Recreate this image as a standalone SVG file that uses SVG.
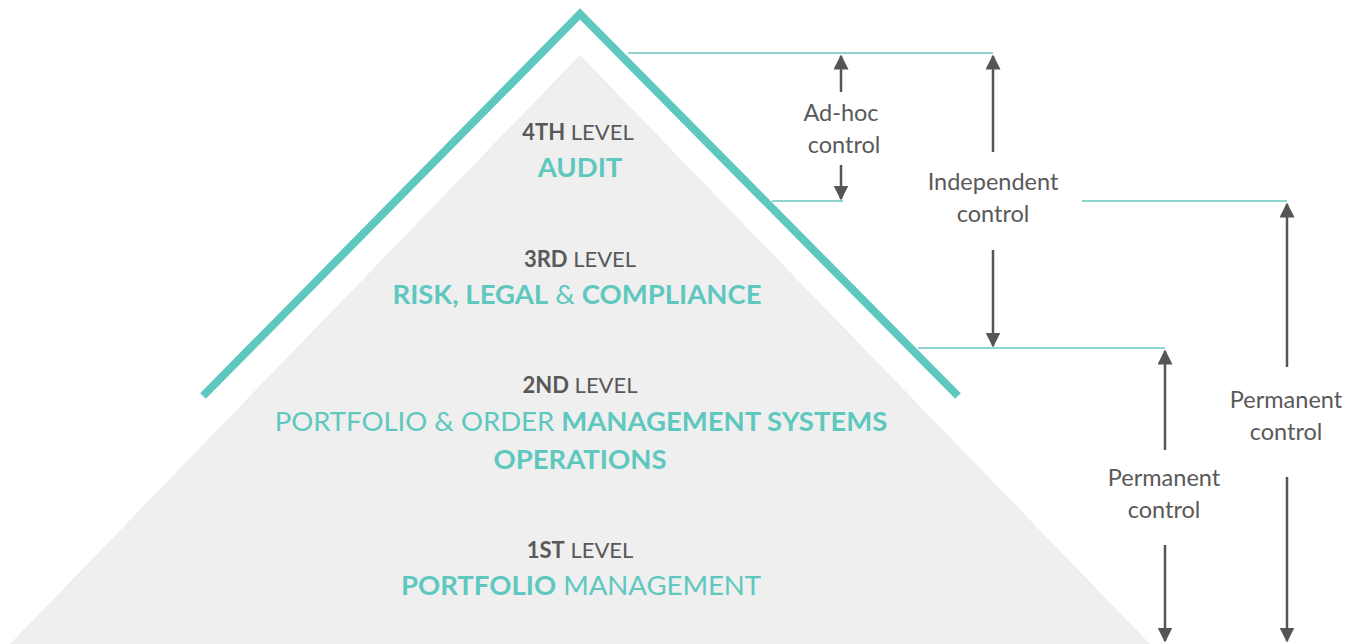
<svg xmlns="http://www.w3.org/2000/svg" width="1353" height="644" viewBox="0 0 1353 644">
<defs>
<style>
.t{font-family:Lato,"Open Sans",sans-serif;text-anchor:middle}
.lvl{font-size:22px;fill:#595959}
.big{font-size:27.5px;fill:#5ec8bf}
.b{font-weight:bold}
.lab{font-size:23.5px;fill:#595959}
.guide{stroke:#8ed5cf;stroke-width:2;fill:none}
.arr{stroke:#555;stroke-width:2.5;fill:none;marker-end:url(#ah)}
</style>
<marker id="ah" viewBox="0 0 10 10" refX="9" refY="5" markerWidth="6" markerHeight="6" markerUnits="strokeWidth" orient="auto">
<path d="M0,0 L10,5 L0,10 z" fill="#555"/>
</marker>
</defs>
<rect width="1353" height="644" fill="#fff"/>
<g id="pyramid">
<polygon points="580,55 1150,644 10,644" fill="#efefef"/>
<polyline points="203,396 580,14 958,396" fill="none" stroke="#5ec8bf" stroke-width="8"/>
</g>
<g id="level4">
<text class="t lvl" x="578" y="140"><tspan class="b">4TH</tspan> LEVEL</text>
<text class="t big b" x="580" y="177">AUDIT</text>
</g>
<g id="level3">
<text class="t lvl" x="580" y="267"><tspan class="b">3RD</tspan> LEVEL</text>
<text class="t big" x="577" y="304"><tspan class="b">RISK, LEGAL</tspan> &amp; <tspan class="b">COMPLIANCE</tspan></text>
</g>
<g id="level2">
<text class="t lvl" x="580" y="393"><tspan class="b">2ND</tspan> LEVEL</text>
<text class="t big" x="581" y="431">PORTFOLIO &amp; ORDER <tspan class="b">MANAGEMENT SYSTEMS</tspan></text>
<text class="t big b" x="580" y="469">OPERATIONS</text>
</g>
<g id="level1">
<text class="t lvl" x="580" y="558"><tspan class="b">1ST</tspan> LEVEL</text>
<text class="t big" x="581" y="595"><tspan class="b">PORTFOLIO</tspan> MANAGEMENT</text>
</g>
<g id="connectors">
<line class="guide" x1="628" y1="53" x2="993" y2="53"/>
<line class="guide" x1="772" y1="201" x2="843" y2="201"/>
<line class="guide" x1="918" y1="348" x2="1165" y2="348"/>
<line class="guide" x1="1082" y1="201" x2="1287" y2="201"/>
<line class="arr" x1="841" y1="92" x2="841" y2="56"/>
<line class="arr" x1="841" y1="165" x2="841" y2="199"/>
<line class="arr" x1="993" y1="152" x2="993" y2="56"/>
<line class="arr" x1="993" y1="250" x2="993" y2="346"/>
<line class="arr" x1="1165" y1="450" x2="1165" y2="351"/>
<line class="arr" x1="1165" y1="545" x2="1165" y2="641"/>
<line class="arr" x1="1287" y1="367" x2="1287" y2="204"/>
<line class="arr" x1="1287" y1="477" x2="1287" y2="641"/>
</g>
<g id="label-adhoc">
<text class="t lab" x="841" y="121">Ad-hoc</text>
<text class="t lab" x="844" y="153">control</text>
</g>
<g id="label-independent">
<text class="t lab" x="993" y="190">Independent</text>
<text class="t lab" x="993" y="222">control</text>
</g>
<g id="label-permanent1">
<text class="t lab" x="1164" y="486">Permanent</text>
<text class="t lab" x="1164" y="518">control</text>
</g>
<g id="label-permanent2">
<text class="t lab" x="1286" y="408">Permanent</text>
<text class="t lab" x="1286" y="440">control</text>
</g>
</svg>
